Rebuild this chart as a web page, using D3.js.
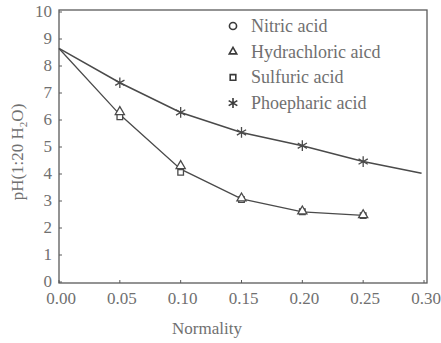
<!DOCTYPE html>
<html><head><meta charset="utf-8">
<script src="https://cdn.jsdelivr.net/npm/d3@7"></script>
<style>body{margin:0;background:#fff}</style>
</head><body><svg id="c" width="441" height="343" font-family="'Liberation Serif', 'DejaVu Serif', serif"></svg>
<script>
const normality = [0, 0.05, 0.10, 0.15, 0.20, 0.25];
const nitric = [8.65, 6.2, 4.18, 3.08, 2.6, 2.47];
const hydrochloric = [8.65, 6.3, 4.3, 3.1, 2.62, 2.48];
const sulfuric = [8.65, 6.12, 4.06, 3.05, 2.6, 2.46];
const phosX = [0, 0.05, 0.10, 0.15, 0.20, 0.25, 0.298];
const phosphoric = [8.65, 7.38, 6.28, 5.54, 5.05, 4.46, 4.03];
const xTicks = [0, 0.05, 0.10, 0.15, 0.20, 0.25, 0.30];
const yTicks = [0,1,2,3,4,5,6,7,8,9,10];
const legendNames = ["Nitric acid", "Hydrachloric aicd", "Sulfuric acid", "Phoepharic acid"];

const svg = d3.select("#c");
const x = d3.scaleLinear().domain([0, 0.3]).range([59, 424]);
const y = d3.scaleLinear().domain([0, 10]).range([282, 12]);
const ink = "#4a4a4a";
const txt = "#707070";

svg.append("rect").attr("x", x(0)).attr("y", y(10) - 2)
  .attr("width", x(0.3) + 3 - x(0)).attr("height", y(0) + 1 - (y(10) - 2))
  .attr("fill", "none").attr("stroke", "#5a5a5a").attr("stroke-width", 1.3);

svg.append("g").selectAll("line").data(yTicks).join("line")
  .attr("x1", x(0)).attr("x2", x(0) + 3).attr("y1", d => y(d)).attr("y2", d => y(d))
  .attr("stroke", "#5a5a5a");
svg.append("g").selectAll("line").data(xTicks).join("line")
  .attr("x1", d => x(d)).attr("x2", d => x(d)).attr("y1", y(0) + 1).attr("y2", y(0) - 2)
  .attr("stroke", "#5a5a5a");

svg.append("g").selectAll("text").data(yTicks).join("text")
  .attr("x", 52).attr("y", d => y(d) + 5).attr("text-anchor", "end").attr("fill", txt)
  .attr("font-size", 17).text(d => d);
svg.append("g").selectAll("text").data(xTicks).join("text")
  .attr("x", d => x(d) + 2).attr("y", 304).attr("text-anchor", "middle").attr("fill", txt)
  .attr("font-size", 17).text(d => d3.format(".2f")(d));

svg.append("text").attr("x", 207).attr("y", 334).attr("text-anchor", "middle").attr("fill", txt)
  .attr("font-size", 17).text("Normality");
const yl = svg.append("text").attr("transform", "translate(23,152) rotate(-90)")
  .attr("text-anchor", "middle").attr("font-size", 17).attr("fill", txt);
yl.append("tspan").text("pH(1:20 H");
yl.append("tspan").attr("font-size", 11).attr("dy", 4).text("2");
yl.append("tspan").attr("dy", -4).text("O)");

const line = d3.line().x(d => x(d[0])).y(d => y(d[1]));
svg.append("path").datum(normality.map((n, i) => [n, nitric[i]])).attr("d", line)
  .attr("fill", "none").attr("stroke", ink).attr("stroke-width", 1.3);
svg.append("path").datum(phosX.map((n, i) => [n, phosphoric[i]])).attr("d", line)
  .attr("fill", "none").attr("stroke", ink).attr("stroke-width", 1.5);

function markers(xs, vs, type, size) {
  const pts = xs.map((n, i) => [n, vs[i]]).filter(d => d[0] > 0 && d[0] <= 0.25);
  svg.append("g").selectAll("path").data(pts)
    .join("path").attr("transform", d => `translate(${x(d[0])},${y(d[1])})`)
    .attr("d", d3.symbol().type(type).size(size))
    .attr("fill", type === d3.symbolAsterisk ? "none" : "#fff").attr("stroke", ink).attr("stroke-width", 1.3);
}
markers(normality, sulfuric, d3.symbolSquare2, 40);
markers(normality, hydrochloric, d3.symbolTriangle2, 60);
markers(phosX, phosphoric, d3.symbolAsterisk, 80);

const legTypes = [d3.symbolCircle, d3.symbolTriangle2, d3.symbolSquare2, d3.symbolAsterisk];
const lg = svg.append("g").selectAll("g").data(legendNames).join("g")
  .attr("transform", (d, i) => `translate(233,${26 + i * 25.7})`);
lg.append("path").attr("d", (d, i) => d3.symbol().type(legTypes[i]).size(i === 3 ? 70 : 40)())
  .attr("fill", "none").attr("stroke", "#3a3a3a").attr("stroke-width", 1.6);
lg.append("text").attr("x", 18).attr("y", 6).attr("font-size", 18).attr("fill", txt).text(d => d);
</script></body></html>
